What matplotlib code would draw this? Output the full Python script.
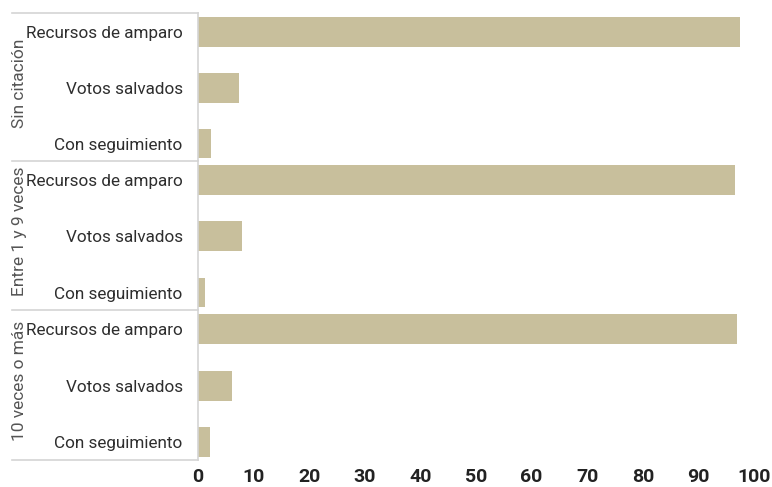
import matplotlib
matplotlib.use("Agg")
import matplotlib.pyplot as plt
from matplotlib.lines import Line2D

# data
groups = ["Sin citación", "Entre 1 y 9 veces", "10 veces o más"]
categories = ["Recursos de amparo", "Votos salvados", "Con seguimiento"]
sin_citacion = [97.4, 7.4, 2.4]
entre_1_y_9 = [96.5, 8.0, 1.2]
diez_o_mas = [96.9, 6.2, 2.1]
values = [sin_citacion, entre_1_y_9, diez_o_mas]
xticks = [0, 10, 20, 30, 40, 50, 60, 70, 80, 90, 100]

bar_color = "#c8bf9c"
line_color = "#d4d4d4"
plt.rcParams["font.family"] = ["Roboto", "DejaVu Sans"]

W, H = 772, 487
fig = plt.figure(figsize=(W / 100, H / 100), dpi=100)

left_px, right_px = 198, 754
edges = [13, 161, 310, 460]

for i, g in enumerate(groups):
    top, bot = edges[i], edges[i + 1]
    ax = fig.add_axes([left_px / W, 1 - bot / H, (right_px - left_px) / W, (bot - top) / H])
    ax.barh(range(3), values[i], height=0.53, color=bar_color)
    ax.set_xlim(0, 100)
    ax.set_ylim(2.31, -0.34)
    for s in ["top", "right", "bottom"]:
        ax.spines[s].set_visible(False)
    ax.spines["left"].set_color(line_color)
    ax.spines["left"].set_linewidth(1.2)
    ax.set_yticks(range(3))
    ax.set_yticklabels(categories, fontsize=12.3, color="#2e2e2e")
    ax.tick_params(axis="y", length=0, pad=11)
    if i == 2:
        ax.set_xticks(xticks)
        ax.set_xticklabels([str(t) for t in xticks], fontsize=14,
                           fontweight="semibold", color="#222222")
        ax.tick_params(axis="x", length=0, pad=6)
    else:
        ax.set_xticks([])
    fig.text(20 / W, 1 - ((top + bot) / 2 - 4) / H, g, rotation=90, ha="center", va="center",
             fontsize=12.5, color="#555555")

# separator lines on the label side
for y in edges:
    fig.add_artist(Line2D([12 / W, left_px / W], [1 - y / H, 1 - y / H],
                          color=line_color, linewidth=1.2))

fig.savefig("out.png", dpi=100)
